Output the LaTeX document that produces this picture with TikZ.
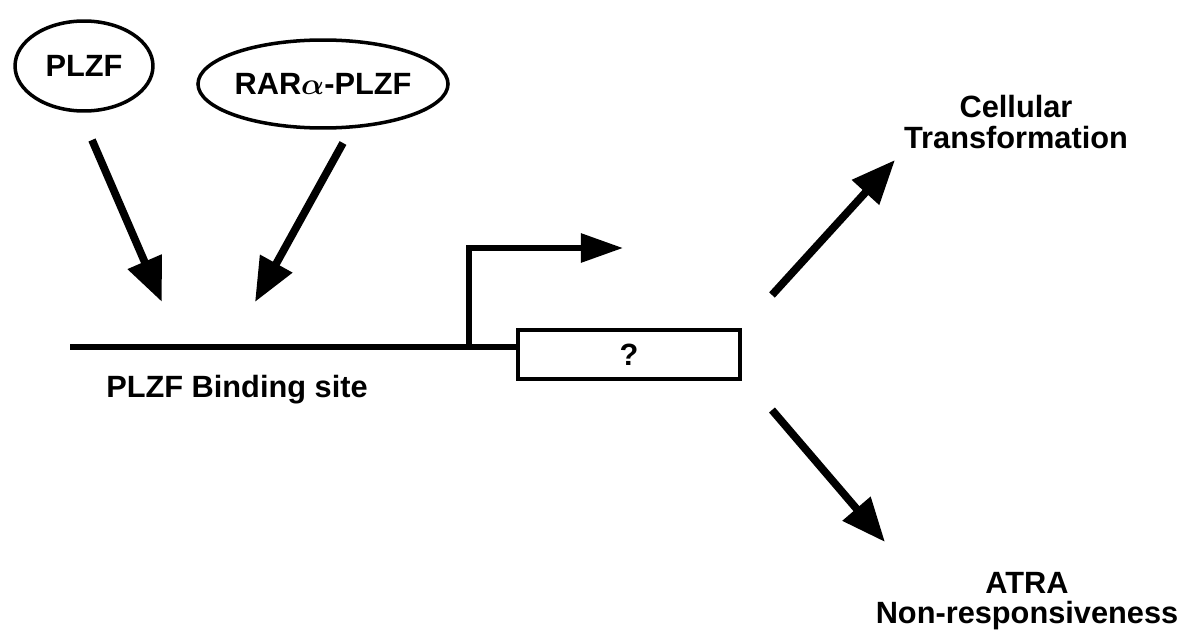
\documentclass[tikz,border=0pt]{standalone}
\usepackage{fontspec}
\setmainfont{Liberation Sans}
\usetikzlibrary{arrows.meta,positioning,shapes.geometric}

\tikzset{
  lbl/.style={font=\fontsize{17.5}{17.5}\selectfont\bfseries,align=center,inner sep=0pt},
  prot/.style={draw,ellipse,line width=2pt,lbl},
  fat/.style={-{Triangle[length=25pt,width=20pt]},line width=4.4pt},
  dna/.style={line width=3.3pt},
}

\begin{document}
\begin{tikzpicture}[x=0.02cm,y=-0.02cm]
\useasboundingbox (0,0) rectangle (1187,632);

% factors binding upstream
\node[prot,minimum width=2.76cm,minimum height=1.8cm] (plzf) at (84,66) {PLZF};
\node[prot,minimum width=3.66cm,minimum height=1.76cm] (rar) at (323,84) {RAR{\boldmath$\alpha$}-PLZF};

% promoter and target gene
\coordinate (start) at (70,347);
\coordinate (tss) at (469,347);
\coordinate (tx) at (623,248);
\node[draw,line width=2.3pt,minimum width=4.44cm,minimum height=0.98cm,lbl] (gene) at (629,354.5) {?};
\node[lbl,below=0.55cm of start,xshift=3.34cm] (site) {PLZF Binding site};
\draw[dna] (start) -- (gene.west |- start);
\draw[dna,-{Triangle[length=24pt,width=16pt]}] (tss) |- (tx);

% arrows onto the binding site
\coordinate (p1) at (92,140);  \coordinate (p2) at (162,302);
\coordinate (r1) at (343,143); \coordinate (r2) at (255,302);
\draw[fat] (p1) -- (p2);
\draw[fat] (r1) -- (r2);

% outcomes
\node[lbl] (trans) at (1016,122) {Cellular\\Transformation};
\node[lbl] (atra) at (1027,601) {ATRA\\Non-responsiveness};
\coordinate (u1) at (772,295); \coordinate (u2) at (895,160);
\coordinate (d1) at (772,410); \coordinate (d2) at (885,542);
\draw[fat] (u1) -- (u2);
\draw[fat] (d1) -- (d2);
\end{tikzpicture}
\end{document}
